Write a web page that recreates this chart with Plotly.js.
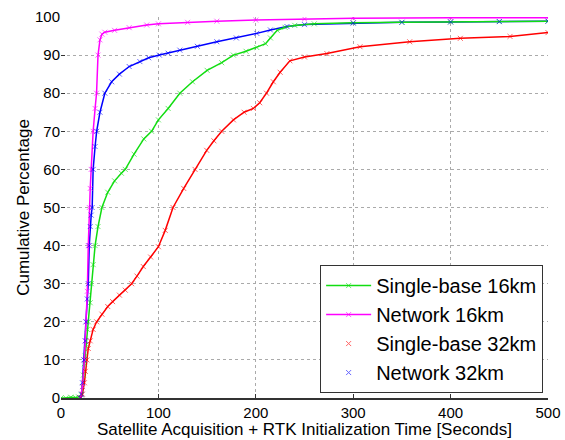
<!DOCTYPE html>
<html>
<head>
<meta charset="utf-8">
<script src="https://cdn.plot.ly/plotly-3.0.1.min.js"></script>
<style>html,body{margin:0;padding:0;background:#fff;}#chart{width:565px;height:440px;}</style>
</head>
<body>
<div id="chart"></div>
<script>
// Single-base 16km (green)
var sb16X = [0,5,10,15,18,21,22,23,24,25,26,27,28,30,31,33,35,38,42,48,55,62,66,75,85,93,100,110,122,135,150,165,177,190,201,210,215,222,230,240,260,300,350,400,450,500];
var sb16Y = [0,0,0.2,0.1,0.3,0.8,3,6,9,11,14,18,20,25,30,35,40,45,50,54,57,59,60,64,68,70,73,76,80,83,86,88,90,91,92,93,94.5,96.5,97.3,97.8,98.2,98.5,98.6,98.7,98.8,98.9];
// Network 16km (magenta)
var nw16X = [20,22,24,25,26,27,28,29,30,31,33,35,36.5,38,40,42,45,55,70,88,100,130,160,200,250,300,400,500];
var nw16Y = [0,3,10,15,20,28,40,50,55,60,70,76,80,90,94,95.5,96,96.5,97.2,97.9,98.2,98.6,98.9,99.2,99.5,99.7,99.8,99.8];
// Single-base 32km (red)
var sb32X = [20,22,24,25,26.6,28,30,33,36.6,42,48,53,60,66,72.5,78,84.5,92,100,107,115,126,137.6,149.6,157,165,177,188,197.5,204,211,218,225,235,250,273,307,358,410,461,500];
var sb32Y = [0,1,4,7,10,13,15,18,20,22,24,25.3,27,28.3,30,32,34.5,37,39.7,44,50,55,60,65,67.5,70,73,75,76,77.5,80,83,85.5,88.5,89.5,90.4,92.2,93.5,94.4,94.9,95.9];
// Network 32km (blue)
var nw32X = [20,21,22,23.6,25,25.6,27,28,29,30,31,32,33,35,36.6,40,45,52,60,70,81,90,101,110,122,140,160,180,201,215,232,250,300,350,400,450,500];
var nw32Y = [0,1,4,10,15,20,26,30,40,45,48,50,60,66,70,75,80,83,85,87,88.3,89.3,90,90.5,91.3,92.3,93.5,94.5,95.7,96.6,97.5,98,98.4,98.6,98.7,98.8,98.9];

var names = ['Single-base 16km','Network 16km','Single-base 32km','Network 32km'];
var xTicks = [0,100,200,300,400,500];
var yTicks = [0,10,20,30,40,50,60,70,80,90,100];

function mk(color){
  return {symbol:'x-thin', size:5, color:color, opacity:0.6, line:{width:1, color:color}};
}
var traces = [
  {x:nw32X, y:nw32Y, mode:'lines', line:{color:'#0000ff', width:1.5}, showlegend:false, hoverinfo:'skip'},
  {x:sb32X, y:sb32Y, mode:'lines', line:{color:'#ff0000', width:1.5}, showlegend:false, hoverinfo:'skip'},
  {x:sb16X, y:sb16Y, name:names[0], mode:'lines+markers', line:{color:'#11dd11', width:1.5}, marker:mk('#11dd11'), legendrank:1},
  {x:nw16X, y:nw16Y, name:names[1], mode:'lines+markers', line:{color:'#ff00ff', width:1.5}, marker:mk('#ff00ff'), legendrank:2},
  {x:sb32X, y:sb32Y, name:names[2], mode:'markers', marker:mk('#ff0000'), legendrank:3},
  {x:nw32X, y:nw32Y, name:names[3], mode:'markers', marker:mk('#0000ff'), legendrank:4}
];

var font = '"Liberation Sans", Arial, Helvetica, sans-serif';
var layout = {
  width:565, height:440,
  margin:{l:61, r:17, t:17, b:42},
  paper_bgcolor:'#fff', plot_bgcolor:'#fff',
  font:{family:font, color:'#000', size:15},
  showlegend:true,
  legend:{x:0.99, y:0.013, xanchor:'right', yanchor:'bottom', bgcolor:'#fff',
          bordercolor:'#333', borderwidth:1, font:{size:20, family:font}, tracegroupgap:0, itemwidth:45},
  xaxis:{range:[0,500], tickvals:xTicks, ticks:'inside', ticklen:4, tickcolor:'#333',
         showline:true, linecolor:'#333', linewidth:1.5, zeroline:false,
         showgrid:true, gridcolor:'#aaa', griddash:'dot', gridwidth:1,
         tickfont:{size:15}, title:{text:'Satellite Acquisition + RTK Initialization Time [Seconds]', font:{size:17}, standoff:2}},
  yaxis:{range:[0,100], tickvals:yTicks, ticks:'inside', ticklen:4, tickcolor:'#333',
         showline:false, zeroline:false,
         showgrid:true, gridcolor:'#aaa', griddash:'dot', gridwidth:1,
         tickfont:{size:15}, title:{text:'Cumulative Percentage', font:{size:17}, standoff:1}}
};
Plotly.newPlot('chart', traces, layout, {displayModeBar:false, staticPlot:true});
</script>
</body>
</html>
